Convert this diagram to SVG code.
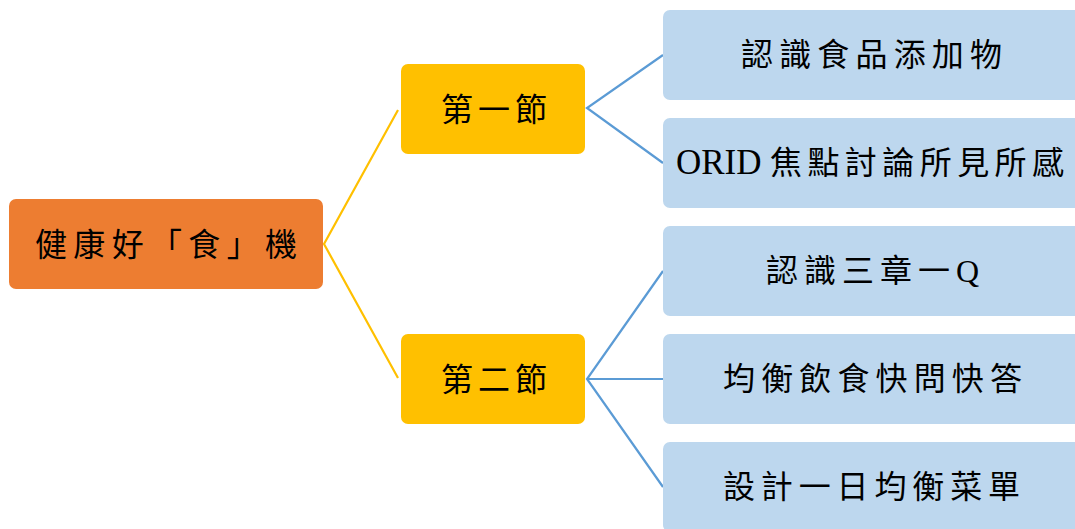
<svg xmlns="http://www.w3.org/2000/svg" width="1075" height="529" viewBox="0 0 1075 529">
<style>
text{font-family:"Liberation Serif","Noto Sans CJK TC",serif;font-size:32px;fill:#000;dominant-baseline:central}
.root{fill:#ED7D31}
.mid{fill:#FFC000}
.leaf{fill:#BDD7EE}
.cy{stroke:#FFC000;stroke-width:2.2;fill:none}
.cb{stroke:#5B9BD5;stroke-width:2.2;fill:none}
</style>
<rect width="1075" height="529" fill="#fff"/>
<g id="connectors">
<polyline class="cy" points="398,110 324,244 398,378"/>
<polyline class="cb" points="663,55 587,108 663,163"/>
<polyline class="cb" points="663,271 587,379 663,487"/>
<line class="cb" x1="587" y1="379" x2="663" y2="379"/>
</g>
<g id="root">
<rect class="root" x="9" y="199" width="314" height="90" rx="7"/>
<text x="35" y="245" textLength="262" lengthAdjust="spacing">健康好「食」機</text>
</g>
<g id="sec1">
<rect class="mid" x="401" y="64" width="184" height="90" rx="7"/>
<text x="441" y="110" textLength="106" lengthAdjust="spacing">第一節</text>
</g>
<g id="sec2">
<rect class="mid" x="401" y="334" width="184" height="90" rx="7"/>
<text x="441" y="380" textLength="106" lengthAdjust="spacing">第二節</text>
</g>
<g id="leaf1">
<rect class="leaf" x="663" y="10" width="420" height="90" rx="7"/>
<text x="741" y="55" textLength="261" lengthAdjust="spacing">認識食品添加物</text>
</g>
<g id="leaf2">
<rect class="leaf" x="663" y="118" width="420" height="90" rx="7"/>
<text x="676" y="162" style="font-size:35px">ORID</text>
<text x="770" y="163" textLength="294" lengthAdjust="spacing">焦點討論所見所感</text>
</g>
<g id="leaf3">
<rect class="leaf" x="663" y="226" width="420" height="90" rx="7"/>
<text x="766" y="271" textLength="213" lengthAdjust="spacing">認識三章一Q</text>
</g>
<g id="leaf4">
<rect class="leaf" x="663" y="334" width="420" height="90" rx="7"/>
<text x="723" y="379" textLength="299" lengthAdjust="spacing">均衡飲食快問快答</text>
</g>
<g id="leaf5">
<rect class="leaf" x="663" y="442" width="420" height="90" rx="7"/>
<text x="723" y="487" textLength="297" lengthAdjust="spacing">設計一日均衡菜單</text>
</g>
</svg>
